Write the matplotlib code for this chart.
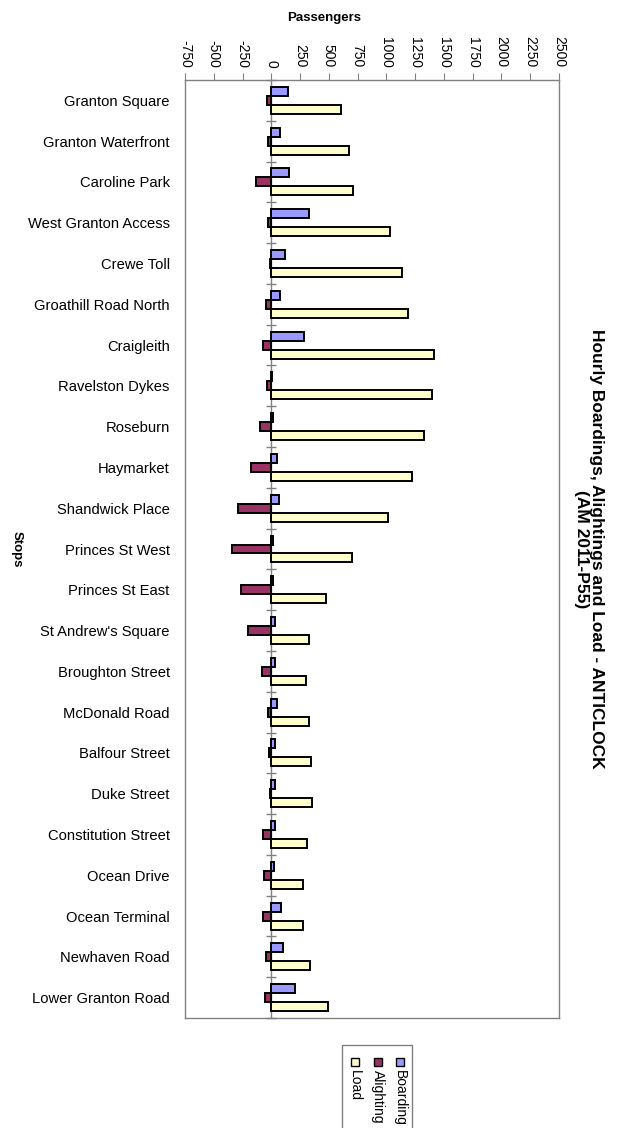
import matplotlib
matplotlib.use("Agg")
import matplotlib.pyplot as plt
from matplotlib.patches import Rectangle
import numpy as np

plt.rcParams["font.family"] = ["Liberation Sans", "DejaVu Sans"]

stops = [
    "Granton Square", "Granton Waterfront", "Caroline Park", "West Granton Access",
    "Crewe Toll", "Groathill Road North", "Craigleith", "Ravelston Dykes",
    "Roseburn", "Haymarket", "Shandwick Place", "Princes St West",
    "Princes St East", "St Andrew's Square", "Broughton Street", "McDonald Road",
    "Balfour Street", "Duke Street", "Constitution Street", "Ocean Drive",
    "Ocean Terminal", "Newhaven Road", "Lower Granton Road",
]
boarding = [143, 79, 158, 325, 120, 79, 284, 10, 15, 50, 68, 15,
            18, 32, 35, 46, 35, 32, 32, 24, 80, 103, 205]
alighting = [-41, -26, -130, -26, -15, -50, -76, -38, -100, -180, -290, -340,
             -266, -200, -79, -26, -20, -15, -76, -64, -73, -47, -55]
load = [605, 672, 714, 1029, 1140, 1190, 1415, 1400, 1330, 1220, 1013, 702,
        474, 325, 304, 330, 342, 351, 313, 272, 278, 336, 491]
x_ticks = list(range(-750, 2501, 250))

series = [("Boarding", boarding, "#9999ff"),
          ("Alighting", alighting, "#993366"),
          ("Load", load, "#ffffcc")]

W, H = 631, 1128
fig = plt.figure(figsize=(W / 100, H / 100), dpi=100)
ax = fig.add_axes([185 / W, 1 - 1018 / H, 374 / W, 938 / H])

y = np.arange(len(stops))
bar_h = 0.22
for k, (name, vals, col) in enumerate(series):
    ax.barh(y + (k - 1) * bar_h, vals, height=bar_h, color=col,
            edgecolor="black", linewidth=1.4, zorder=3)

# zero line with category separators
ax.axvline(0, color="#808080", linewidth=1.0, zorder=2)
ax.plot(np.zeros(len(stops) + 1), np.arange(len(stops) + 1) - 0.5,
        linestyle="none", marker="_", markersize=7, color="#808080",
        markeredgewidth=1.0, zorder=2, clip_on=False)

ax.set_xlim(-750, 2500)
ax.set_ylim(len(stops) - 0.5, -0.5)
ax.set_xticks(x_ticks)
ax.set_xticklabels([str(v) for v in x_ticks], rotation=-90)
ax.xaxis.tick_top()
ax.tick_params(axis="x", direction="out", length=5, color="#808080",
               labelsize=10, pad=4)
ax.set_yticks(y)
ax.set_yticklabels(stops, fontsize=10.6)
ax.tick_params(axis="y", length=0, pad=11)
for sp in ax.spines.values():
    sp.set_color("#808080")
    sp.set_linewidth(1.0)

fig.text(324 / W, 1 - 18 / H, "Passengers", ha="center", va="center",
         fontsize=9.5, fontweight="bold")
fig.text(17 / W, 1 - 549 / H, "Stops", ha="center", va="center",
         rotation=-90, fontsize=9.5, fontweight="bold")
fig.text(589 / W, 1 - 549 / H,
         "Hourly Boardings, Alightings and Load - ANTICLOCK\n(AM 2011-P55)",
         ha="center", va="center", rotation=-90, multialignment="center",
         fontsize=12.5, fontweight="bold", linespacing=1.0)

# legend box, turned on its side
fig.patches.append(Rectangle((342 / W, -0.02), 70 / W, 0.02 + (1128 - 1045) / H,
                             transform=fig.transFigure, facecolor="white",
                             edgecolor="#808080", linewidth=1.0))
for k, (name, vals, col) in enumerate(series):
    xc = 400 - k * 22.5
    fig.patches.append(Rectangle(((xc - 4) / W, 1 - 1066 / H), 8 / W, 8 / H,
                                 transform=fig.transFigure, facecolor=col,
                                 edgecolor="black", linewidth=1.0))
    fig.text(xc / W, 1 - 1070 / H, name, ha="center", va="top",
             rotation=-90, fontsize=10)

fig.savefig("out.png", dpi=100, facecolor="white")
